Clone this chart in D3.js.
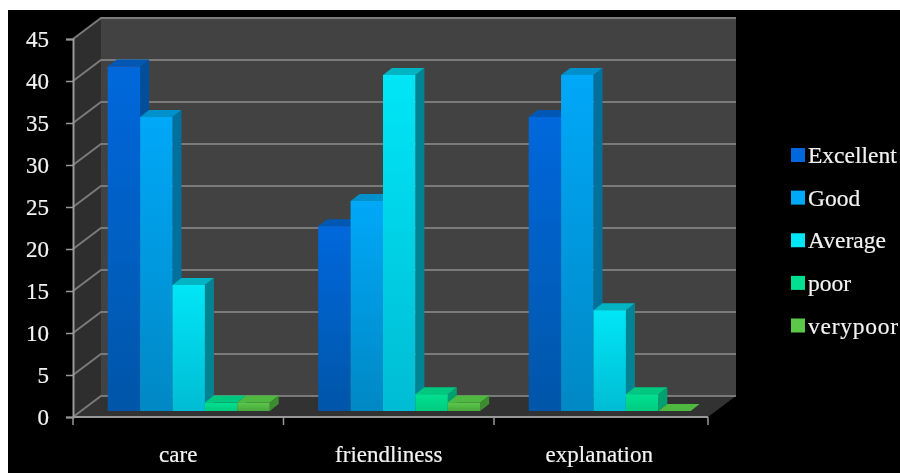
<!DOCTYPE html>
<html>
<head>
<meta charset="utf-8">
<script src="https://cdn.jsdelivr.net/npm/d3@7"></script>
<style>
    html, body { margin: 0; padding: 0; background: #fff; }
    svg { display: block; }
    text { font-family: "Liberation Serif", serif; font-size: 23px; fill: #f2f2f2; stroke: #f2f2f2; stroke-width: 0.2px; }
    .legend-label { font-size: 23.5px; }
</style>
</head>
<body>
<svg id="canvas" width="900" height="473"></svg>
<script>
const categories = ['care', 'friendliness', 'explanation']
const seriesNames = ['Excellent', 'Good', 'Average', 'poor', 'verypoor']
const excellent = [41, 22, 35]
const good = [35, 25, 40]
const average = [15, 40, 12]
const poor = [1, 2, 2]
const veryPoor = [1, 1, 0]
const seriesValues = [excellent, good, average, poor, veryPoor]
const yTicks = [0, 5, 10, 15, 20, 25, 30, 35, 40, 45]

// front top, front bottom, side, top
const barColors = [
    ['#0068dc', '#0056a8', '#004f9c', '#0058b4'],
    ['#00a8f8', '#0088c4', '#00709c', '#0090cc'],
    ['#00e6f6', '#00bcd4', '#008494', '#00b4c4'],
    ['#00e090', '#00cc80', '#00a070', '#00c880'],
    ['#5cc84a', '#48a83c', '#3c8c30', '#50b840']
]

const wallDepth = { x: 28, y: 21 }
const barDepth = { x: 9, y: 7 }
const barShift = { x: 8, y: 6 }
const plotRight = 708

const x0 = d3.scaleBand().domain(categories).range([73, 704.5])
const x1 = d3.scaleBand().domain(seriesNames).range([26.7, 188.7])
const y = d3.scaleLinear().domain([0, 45]).range([417, 39])
const legendY = d3.scalePoint().domain(seriesNames).range([155, 325.5])

const svg = d3.select('#canvas')

const defs = svg.append('defs')
defs.append('filter').attr('id', 'soft')
    .attr('filterUnits', 'userSpaceOnUse')
    .attr('x', 0).attr('y', 0)
    .attr('width', 900).attr('height', 473)
    .append('feGaussianBlur').attr('stdDeviation', 0.55)

seriesNames.forEach((s, i) => {
    const g = defs.append('linearGradient').attr('id', `bar${i}`)
        .attr('x1', 0).attr('y1', 0).attr('x2', 0).attr('y2', 1)
    g.append('stop').attr('offset', 0).attr('stop-color', barColors[i][0])
    g.append('stop').attr('offset', 1).attr('stop-color', barColors[i][1])
})

// Background
svg.append('rect').attr('x', 8).attr('y', 10).attr('width', 892).attr('height', 463).attr('fill', '#000')

const chart = svg.append('g').attr('filter', 'url(#soft)')

const xLeft = x0.range()[0], xRight = plotRight
const poly = pts => pts.map(p => p.join(',')).join(' ')

// Walls and floor
chart.append('polygon').attr('fill', '#434343')
    .attr('points', poly([
        [xLeft + wallDepth.x, y(45) - wallDepth.y], [xRight + wallDepth.x, y(45) - wallDepth.y],
        [xRight + wallDepth.x, y(0) - wallDepth.y], [xLeft + wallDepth.x, y(0) - wallDepth.y]
    ]))
chart.append('polygon').attr('fill', '#2e2e2e')
    .attr('points', poly([
        [xLeft, y(45)], [xLeft + wallDepth.x, y(45) - wallDepth.y],
        [xLeft + wallDepth.x, y(0) - wallDepth.y], [xLeft, y(0)]
    ]))
chart.append('polygon').attr('fill', '#303030')
    .attr('points', poly([
        [xLeft, y(0)], [xRight, y(0)],
        [xRight + wallDepth.x, y(0) - wallDepth.y], [xLeft + wallDepth.x, y(0) - wallDepth.y]
    ]))

// Grid lines along the walls
chart.append('g').selectAll('polyline')
    .data(yTicks)
    .enter()
        .append('polyline')
        .attr('fill', 'none')
        .attr('stroke', '#7a7a7a')
        .attr('stroke-width', 2)
        .attr('points', d => poly([
            [xLeft, y(d)],
            [xLeft + wallDepth.x, y(d) - wallDepth.y],
            [xRight + wallDepth.x, y(d) - wallDepth.y]
        ]))

// Bars, left to right so the next front face covers the previous side
const bars = chart.append('g')
categories.forEach((c, ci) => {
    seriesNames.forEach((s, si) => {
        const v = seriesValues[si][ci]
        const left = x0(c) + x1(s) + barShift.x
        const right = left + x1.bandwidth()
        const top = y(v) - barShift.y
        const bottom = y(0) - barShift.y
        const g = bars.append('g').attr('class', 'bar')
        g.append('polygon').attr('fill', barColors[si][2])
            .attr('points', poly([
                [right, top], [right + barDepth.x, top - barDepth.y],
                [right + barDepth.x, bottom - barDepth.y], [right, bottom]
            ]))
        g.append('polygon').attr('fill', barColors[si][3])
            .attr('points', poly([
                [left, top], [right, top],
                [right + barDepth.x, top - barDepth.y], [left + barDepth.x, top - barDepth.y]
            ]))
        g.append('rect').attr('fill', `url(#bar${si})`)
            .attr('x', left).attr('y', top)
            .attr('width', x1.bandwidth()).attr('height', bottom - top)
    })
})

// Axes
const yAxis = chart.append('g')
    .attr('transform', `translate(${xLeft},0)`)
    .call(d3.axisLeft(y).tickValues(yTicks).tickSize(7).tickPadding(17))
const xAxis = chart.append('g')
    .attr('transform', `translate(0,${y(0)})`)
    .call(d3.axisBottom(x0).tickSize(0).tickPadding(29))
xAxis.select('.domain').attr('d', `M${xLeft},0H${xRight}`)
chart.append('g').selectAll('line')
    .data([xLeft, x0(categories[1]), x0(categories[2]), xRight])
    .enter()
        .append('line')
        .attr('x1', d => d).attr('x2', d => d)
        .attr('y1', y(0)).attr('y2', y(0) + 8)
        .attr('stroke', '#999').attr('stroke-width', 1.5)
chart.selectAll('.domain').attr('stroke', '#999').attr('stroke-width', 2)
chart.selectAll('.tick line').attr('stroke', '#999').attr('stroke-width', 1.5)
chart.selectAll('.tick text').attr('fill', null).attr('font-size', null).attr('font-family', null)
yAxis.attr('font-size', null).attr('font-family', null)
xAxis.attr('font-size', null).attr('font-family', null)

// Legend
const legend = chart.append('g').selectAll('g')
    .data(seriesNames)
    .enter()
        .append('g')
        .attr('transform', d => `translate(0,${legendY(d)})`)
legend.append('rect')
    .attr('x', 791).attr('y', -7)
    .attr('width', 14).attr('height', 14)
    .attr('fill', (d, i) => barColors[i][0])
legend.append('text')
    .attr('class', 'legend-label')
    .attr('x', 808).attr('y', 8)
    .attr('textLength', d => d === 'verypoor' ? 90 : null)
    .text(d => d)
</script>
</body>
</html>
